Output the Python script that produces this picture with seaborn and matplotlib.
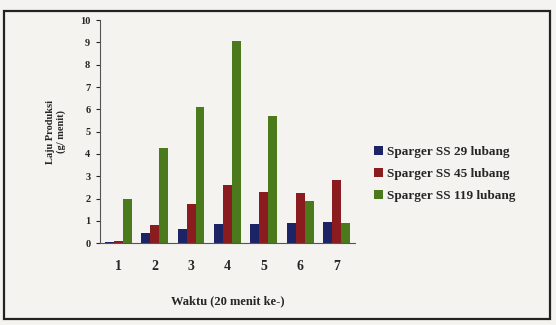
import numpy as np
import pandas as pd
import matplotlib
matplotlib.use("Agg")
import matplotlib.pyplot as plt
from matplotlib.patches import Rectangle
import seaborn as sns

sns.set_style("white")
plt.rcParams['font.family'] = ['Liberation Serif', 'DejaVu Serif']
plt.rcParams['font.weight'] = 'bold'

# Data
waktu = [1, 2, 3, 4, 5, 6, 7]
ss29 = [0.05, 0.45, 0.65, 0.85, 0.85, 0.9, 0.95]
ss45 = [0.1, 0.8, 1.75, 2.6, 2.3, 2.25, 2.85]
ss119 = [2.0, 4.25, 6.1, 9.05, 5.7, 1.9, 0.9]
series = ["Sparger SS 29 lubang", "Sparger SS 45 lubang", "Sparger SS 119 lubang"]
colours = ["#1c2466", "#8a1c1f", "#4a7a1c"]

df = pd.DataFrame({
    "waktu": waktu * 3,
    "laju": ss29 + ss45 + ss119,
    "sparger": np.repeat(series, len(waktu)),
})

bg = "#f4f3ef"
fig = plt.figure(figsize=(5.56, 3.25), dpi=100, facecolor=bg)
ax = fig.add_axes([0.18, 0.252, 0.458, 0.686], facecolor=bg)

sns.barplot(data=df, x="waktu", y="laju", hue="sparger", palette=colours,
            width=0.74, saturation=1, linewidth=0, ax=ax)

ax.set_ylim(0, 10)
ax.set_yticks(range(0, 11))
ax.tick_params(axis='y', labelsize=7.5, length=3, direction='out', left=True, pad=4)
ax.tick_params(axis='x', labelsize=10, length=0, pad=12)
sns.despine(ax=ax)
for s in ["left", "bottom"]:
    ax.spines[s].set_color("#555555")
    ax.spines[s].set_linewidth(0.8)

ax.set_xlabel("Waktu (20 menit ke-)", fontsize=9, fontweight='bold', labelpad=16)
ax.set_ylabel("Laju Produksi\n(g/ menit)", fontsize=7.5, fontweight='bold', labelpad=10)

leg = ax.legend(loc='upper left', bbox_to_anchor=(1.03, 0.49), frameon=False,
                fontsize=9.5, handlelength=0.7, handleheight=0.7,
                handletextpad=0.3, labelspacing=0.75)

# outer frame
fig.patches.append(Rectangle((0.008, 0.02), 0.982, 0.945, transform=fig.transFigure,
                             fill=False, edgecolor="#222222", linewidth=1.6))

fig.savefig("out.png", dpi=100, facecolor=bg)
